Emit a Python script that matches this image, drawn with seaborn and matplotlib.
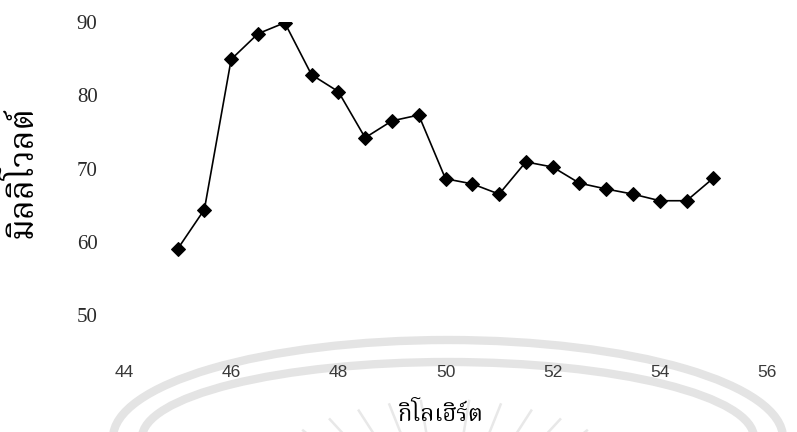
import matplotlib
matplotlib.use("Agg")
import numpy as np
import pandas as pd
import seaborn as sns
import matplotlib.pyplot as plt
from matplotlib.patches import Arc
from matplotlib import font_manager

# measured response: frequency (kHz) against output (mV)
frequency_khz = [45.0, 45.5, 46.0, 46.5, 47.0, 47.5, 48.0, 48.5, 49.0, 49.5, 50.0,
                 50.5, 51.0, 51.5, 52.0, 52.5, 53.0, 53.5, 54.0, 54.5, 55.0]
amplitude_mv = [59.0, 64.4, 84.9, 88.4, 89.9, 82.8, 80.5, 74.2, 76.5, 77.3, 68.6,
                67.9, 66.5, 70.9, 70.2, 68.0, 67.2, 66.5, 65.6, 65.6, 68.7]
x_ticks = [44, 46, 48, 50, 52, 54, 56]
y_ticks = [50, 60, 70, 80, 90]
x_title = "กิโลเฮิร์ต"
y_title = "มิลลิโวลต์"


def find_thai_family():
    """Return an installed family that has Thai glyphs, if any."""
    try:
        from fontTools.ttLib import TTFont
    except Exception:
        return None
    preferred = ["Noto Serif Thai", "Noto Sans Thai", "Norasi", "Kinnari", "Loma",
                 "Garuda", "Tlwg Typo", "Waree", "Umpush", "Sawasdee", "FreeSerif",
                 "FreeSans"]
    found = []
    for entry in font_manager.fontManager.ttflist:
        try:
            tt = TTFont(entry.fname, fontNumber=0, lazy=True)
            cmap = tt.getBestCmap() or {}
            if 0x0E01 in cmap and 0x0E34 in cmap and 0x0E25 in cmap:
                found.append(entry.name)
        except Exception:
            continue
    for name in preferred:
        if name in found:
            return name
    return found[0] if found else None


sns.set_style("white")
thai = find_thai_family()
thai_family = [thai, "DejaVu Sans"] if thai else ["DejaVu Sans"]

W, H = 797, 432
fig = plt.figure(figsize=(W / 100, H / 100), dpi=100)
fig.patch.set_facecolor("white")

# faint seal watermark behind the chart
bg = fig.add_axes([0, 0, 1, 1], zorder=0)
bg.set_xlim(0, W)
bg.set_ylim(0, H)
bg.axis("off")
seal_grey = "#e4e4e4"
bg.add_patch(Arc((448, -6), 2 * 335, 2 * 98, theta1=0, theta2=180,
                 lw=6, color=seal_grey))
bg.add_patch(Arc((448, -6), 2 * 306, 2 * 76, theta1=0, theta2=180,
                 lw=6, color=seal_grey))
for ang in np.deg2rad([52, 60, 68, 76, 84, 96, 104, 112, 120, 128]):
    r0, r1 = 40, 145
    bg.plot([445 + r0 * np.cos(ang) * 1.6, 445 + r1 * np.cos(ang) * 1.6],
            [-112 + r0 * np.sin(ang), -112 + r1 * np.sin(ang)],
            color="#e8e8e8", lw=1.8, solid_capstyle="butt")

# main chart
ax = fig.add_axes([124 / W, 1 - 315 / H, (767 - 124) / W, (315 - 22) / H], zorder=1)
ax.patch.set_alpha(0)
df = pd.DataFrame({"freq": frequency_khz, "mv": amplitude_mv})
sns.lineplot(data=df, x="freq", y="mv", ax=ax, color="black", linewidth=1.2,
             marker="D", markersize=7, markeredgecolor="black", markerfacecolor="black")

ax.set_xlim(44, 56)
ax.set_ylim(50, 90)
ax.set_xticks(x_ticks)
ax.set_yticks(y_ticks)
ax.set_xticklabels([str(t) for t in x_ticks])
ax.set_yticklabels([str(t) for t in y_ticks])
for s in ax.spines.values():
    s.set_visible(False)
ax.grid(False)
ax.tick_params(axis="x", length=0, pad=36, labelsize=12.5, labelcolor="#3a3a3a")
ax.tick_params(axis="y", length=0, pad=19, labelsize=15, labelcolor="#2a2a2a")
for lbl in ax.get_xticklabels():
    lbl.set_fontfamily("Liberation Sans")
for lbl in ax.get_yticklabels():
    lbl.set_fontfamily("Liberation Serif")
ax.set_xlabel("")
ax.set_ylabel("")

fig.text(440 / W, 1 - 415 / H, x_title, ha="center", va="center",
         fontsize=17, family=thai_family, color="black")
fig.text(22 / W, 1 - 172 / H, y_title, ha="center", va="center", rotation=90,
         fontsize=24, family=thai_family, color="black")

fig.savefig("out.png", dpi=100, facecolor="white")
